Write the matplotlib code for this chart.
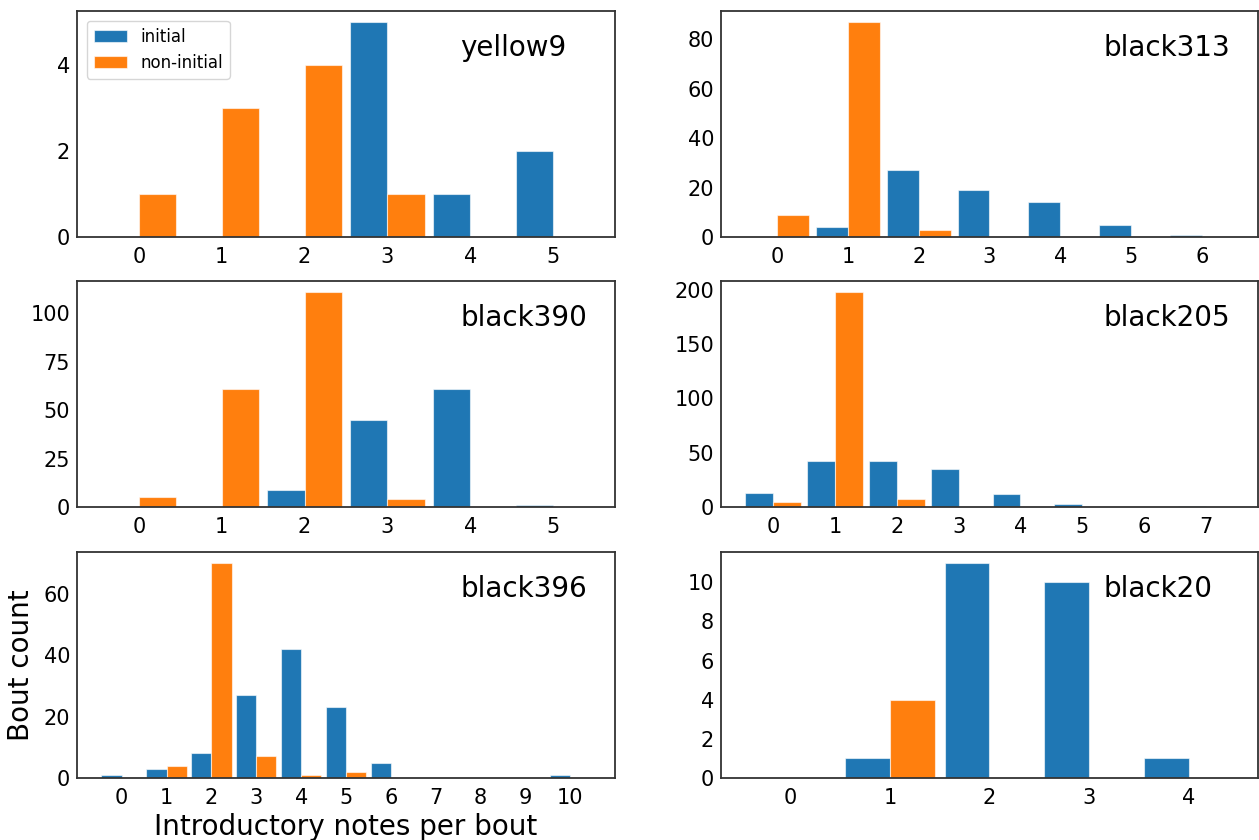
import matplotlib
matplotlib.use("Agg")
import matplotlib.pyplot as plt
from matplotlib.ticker import MultipleLocator
import numpy as np

# Bout counts per number of introductory notes, split by initial / non-initial
yellow9_initial = [0, 0, 0, 5, 1, 2]
yellow9_noninitial = [1, 3, 4, 1, 0, 0]

black313_initial = [0, 4, 27, 19, 14, 5, 1]
black313_noninitial = [9, 87, 3, 0, 0, 0, 0]

black390_initial = [0, 0, 9, 45, 61, 1]
black390_noninitial = [5, 61, 111, 4, 0, 0]

black205_initial = [13, 42, 42, 35, 12, 3, 0, 1]
black205_noninitial = [5, 198, 7, 0, 0, 0, 0, 0]

black396_initial = [1, 3, 8, 27, 42, 23, 5, 0, 0, 0, 1]
black396_noninitial = [0, 4, 70, 7, 1, 2, 0, 0, 0, 0, 0]

black20_initial = [0, 1, 11, 10, 1]
black20_noninitial = [0, 4, 0, 0, 0]

birds = ["yellow9", "black313", "black390", "black205", "black396", "black20"]
initial_counts = [yellow9_initial, black313_initial, black390_initial,
                  black205_initial, black396_initial, black20_initial]
noninitial_counts = [yellow9_noninitial, black313_noninitial, black390_noninitial,
                     black205_noninitial, black396_noninitial, black20_noninitial]

W, H = 1259, 840
fig = plt.figure(figsize=(W / 100, H / 100), dpi=100)

col_left = [77 / W, 721 / W]
col_width = [538 / W, 537 / W]
row_top_px = [11, 281, 552]
row_height_px = 226

blue = "#1f77b4"
orange = "#ff7f0e"
bw = 0.45

axes = []
for i, (name, ini, non) in enumerate(zip(birds, initial_counts, noninitial_counts)):
    r, c = divmod(i, 2)
    bottom = (H - row_top_px[r] - row_height_px) / H
    ax = fig.add_axes([col_left[c], bottom, col_width[c], row_height_px / H])
    x = np.arange(len(ini))
    ax.bar(x - bw, ini, width=bw, align="edge", color=blue,
           edgecolor=(1, 1, 1, 0.6), linewidth=0.8, label="initial")
    ax.bar(x, non, width=bw, align="edge", color=orange,
           edgecolor=(1, 1, 1, 0.6), linewidth=0.8, label="non-initial")
    ax.set_xticks(x)
    # keep whole-number count ticks on the small-count panel
    if 5 < max(ini + non) <= 20:
        ax.yaxis.set_major_locator(MultipleLocator(2))
    ax.tick_params(axis="both", length=0, labelsize=15, pad=5)
    ax.tick_params(axis="x", pad=7)
    for sp in ax.spines.values():
        sp.set_color("#333333")
        sp.set_linewidth(1.3)
    ax.text(0.713, 0.80, name, transform=ax.transAxes, fontsize=20,
            ha="left", va="baseline")
    axes.append(ax)

axes[0].legend(loc="upper left", fontsize=12, borderaxespad=0.6)
axes[4].set_xlabel("Introductory notes per bout", fontsize=20, labelpad=4)
axes[4].set_ylabel("Bout count", fontsize=20, labelpad=6)

fig.savefig("out.png", dpi=100)
